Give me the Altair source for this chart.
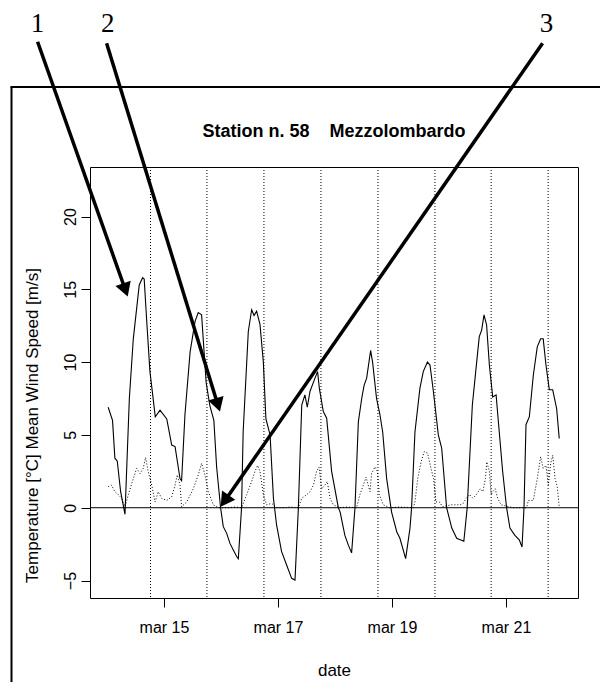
import altair as alt
import pandas as pd

YEAR = "2010"

# ---- temperature (solid line) ----
temp_times = [
    "03-14 00:30", "03-14 02:20", "03-14 03:20", "03-14 04:20", "03-14 05:45", "03-14 07:35",
    "03-14 09:25", "03-14 11:05", "03-14 13:35", "03-14 15:00", "03-14 15:40", "03-14 16:40",
    "03-14 18:05", "03-14 19:15", "03-14 20:20", "03-14 22:20",
    "03-15 01:10", "03-15 03:15", "03-15 04:40", "03-15 06:45", "03-15 07:25", "03-15 08:50",
    "03-15 11:00", "03-15 13:05", "03-15 14:25", "03-15 15:50", "03-15 17:45", "03-15 19:20",
    "03-15 21:00", "03-15 22:10", "03-15 23:50",
    "03-16 00:58", "03-16 02:24", "03-16 03:47", "03-16 05:11", "03-16 06:36", "03-16 07:18",
    "03-16 08:40", "03-16 09:20", "03-16 11:30", "03-16 12:55", "03-16 13:55", "03-16 15:00",
    "03-16 16:25", "03-16 17:50", "03-16 18:55", "03-16 20:40", "03-16 22:05", "03-16 23:25",
    "03-17 01:30", "03-17 03:40", "03-17 05:45", "03-17 07:10", "03-17 08:35", "03-17 10:00",
    "03-17 11:20", "03-17 12:20", "03-17 13:30", "03-17 15:35", "03-17 16:40", "03-17 17:25",
    "03-17 19:05", "03-17 20:30", "03-17 22:35",
    "03-18 01:25", "03-18 02:10", "03-18 04:10", "03-18 05:35", "03-18 07:00", "03-18 08:25",
    "03-18 09:50", "03-18 11:15", "03-18 12:15", "03-18 13:20", "03-18 15:00", "03-18 15:50",
    "03-18 17:30", "03-18 18:55", "03-18 20:05", "03-18 21:45", "03-18 23:50",
    "03-19 02:00", "03-19 03:20", "03-19 05:45", "03-19 07:35", "03-19 08:15", "03-19 09:40",
    "03-19 11:45", "03-19 13:10", "03-19 14:55", "03-19 16:00", "03-19 17:25", "03-19 19:30",
    "03-19 20:55", "03-19 23:00",
    "03-20 01:10", "03-20 03:15", "03-20 06:15", "03-20 07:40", "03-20 09:50", "03-20 11:15",
    "03-20 12:45", "03-20 13:45", "03-20 14:45", "03-20 15:50", "03-20 17:00", "03-20 18:25",
    "03-20 19:50", "03-20 21:10", "03-20 22:35",
    "03-21 00:15", "03-21 01:40", "03-21 03:45", "03-21 05:35", "03-21 06:45", "03-21 07:35",
    "03-21 08:25", "03-21 09:50", "03-21 11:30", "03-21 13:10", "03-21 14:35", "03-21 15:40",
    "03-21 16:50", "03-21 18:15", "03-21 19:40", "03-21 21:20", "03-21 22:25",
]
temp_values = [
    6.9, 6.0, 3.4, 3.2, 1.1, -0.45,
    7.5, 11.6, 15.3, 15.8, 15.7, 13.0,
    9.35, 7.75, 6.25, 6.7,
    6.1, 4.3, 4.2, 2.0, 1.85, 6.4,
    10.7, 12.8, 13.4, 13.25, 8.6, 7.0,
    6.0, 2.8, 0.0,
    -1.3, -1.76, -2.45, -2.9, -3.35, -3.5,
    0.0, 5.2, 12.1, 13.6, 13.2, 13.5,
    12.6, 10.0, 6.1, 5.0, 0.65, -1.2,
    -3.0, -3.95, -4.85, -4.97, 0.0, 7.05,
    7.75, 6.9, 8.0, 8.9, 9.35, 8.2,
    6.6, 6.15, 2.5,
    0.0, -0.3, -1.9, -2.55, -3.1, 0.0,
    5.9, 7.5, 8.4, 8.9, 10.8, 10.0,
    7.5, 6.4, 5.2, 2.0, -0.3,
    -1.65, -2.1, -3.5, -1.4, 0.0, 5.2,
    8.2, 9.35, 10.0, 9.8, 8.0, 5.0,
    4.1, 0.0,
    -1.4, -2.1, -2.3, 0.0, 7.05, 9.35,
    11.75, 12.2, 13.25, 12.55, 9.8, 7.6,
    7.75, 5.2, 2.5,
    0.0, -1.4, -1.9, -2.2, -2.7, 0.0,
    5.7, 6.25, 9.1, 11.05, 11.6, 11.6,
    9.8, 8.1, 8.1, 6.8, 4.75,
]

# ---- mean wind speed (dotted line) ----
wind_times = [
    "03-14 00:30", "03-14 01:55", "03-14 03:20", "03-14 04:45", "03-14 06:10", "03-14 07:35",
    "03-14 09:00", "03-14 11:05", "03-14 12:30", "03-14 13:55", "03-14 15:15", "03-14 16:15",
    "03-14 17:20", "03-14 18:50", "03-14 20:15", "03-14 21:35", "03-14 23:00",
    "03-15 01:10", "03-15 03:15", "03-15 04:40", "03-15 05:35", "03-15 06:45", "03-15 07:25",
    "03-15 09:35", "03-15 12:20", "03-15 14:25", "03-15 15:50", "03-15 17:15", "03-15 18:40",
    "03-15 20:45", "03-15 22:55",
    "03-16 03:00", "03-16 06:00", "03-16 08:40", "03-16 10:50", "03-16 12:55", "03-16 14:20",
    "03-16 15:25", "03-16 16:25", "03-16 17:50", "03-16 19:15", "03-16 21:20", "03-16 23:25",
    "03-17 03:00", "03-17 05:00", "03-17 08:35", "03-17 10:00", "03-17 12:05", "03-17 13:30",
    "03-17 14:55", "03-17 16:15", "03-17 17:15", "03-17 18:25", "03-17 19:45", "03-17 20:45",
    "03-17 21:55", "03-17 23:20",
    "03-18 02:00", "03-18 05:00", "03-18 09:05", "03-18 10:30", "03-18 11:55", "03-18 13:05",
    "03-18 14:45", "03-18 15:25", "03-18 16:50", "03-18 17:50", "03-18 18:40", "03-18 20:20",
    "03-18 23:00",
    "03-19 03:00", "03-19 09:00", "03-19 09:40", "03-19 10:50", "03-19 12:15", "03-19 13:35",
    "03-19 15:00", "03-19 16:25", "03-19 17:30", "03-19 18:30", "03-19 19:55", "03-19 21:20",
    "03-20 01:00", "03-20 03:15", "03-20 04:40", "03-20 06:00", "03-20 07:15", "03-20 08:40",
    "03-20 10:05", "03-20 11:30", "03-20 13:10", "03-20 14:15", "03-20 15:20", "03-20 15:55",
    "03-20 17:00", "03-20 17:45", "03-20 18:25", "03-20 19:25", "03-20 20:30", "03-20 21:55",
    "03-21 03:00", "03-21 08:40", "03-21 09:25", "03-21 11:30", "03-21 13:10", "03-21 14:35",
    "03-21 15:40", "03-21 16:50", "03-21 17:50", "03-21 18:50", "03-21 19:40", "03-21 20:40",
    "03-21 21:35", "03-21 22:25",
]
wind_values = [
    1.45, 1.55, 1.1, 0.9, 0.65, 0.07,
    0.9, 2.0, 2.7, 2.35, 2.7, 3.45,
    2.5, 1.55, 0.4, 1.1, 0.65,
    0.5, 0.75, 1.55, 2.25, 1.55, 0.07,
    0.4, 1.3, 2.25, 3.05, 2.25, 1.1,
    0.2, 0.0,
    0.0, 0.05, 0.0, 0.9, 1.8, 2.5,
    2.9, 2.5, 0.9, 0.2, 0.3, 0.0,
    0.0, 0.05, 0.0, 0.65, 0.9, 1.1,
    1.55, 2.5, 2.8, 1.3, 1.55, 1.8,
    0.65, 0.2,
    0.0, 0.05, 0.0, 0.9, 1.55, 2.1,
    1.1, 2.35, 2.8, 2.5, 0.9, 0.2,
    0.0,
    0.05, 0.0, 0.4, 2.0, 3.15, 3.85,
    3.75, 2.7, 2.0, 0.4, 0.4, 0.07,
    0.2, 0.2, 0.2, 0.3, 0.65, 0.9,
    0.65, 0.9, 1.3, 1.1, 2.0, 3.15,
    2.5, 0.9, 1.1, 1.3, 0.65, 0.2,
    0.0, 0.0, 0.5, 0.5, 2.0, 3.5,
    2.7, 2.9, 1.55, 3.05, 3.6, 2.0,
    1.45, 0.07,
]

# ---- vertical dotted day markers ----
marker_times = ["03-14 18:20", "03-15 18:05", "03-16 18:05", "03-17 18:05",
                "03-18 18:05", "03-19 18:05", "03-20 17:45", "03-21 17:45"]

# ---- axes ----
x_tick_days = ["03-15 00:00", "03-17 00:00", "03-19 00:00", "03-21 00:00"]
x_domain = ["03-13 16:51", "03-22 06:19"]
y_ticks = [-5, 0, 5, 10, 15, 20]
y_domain = [-6.2, 23.4]

# ---- numbered arrows (in data units) ----
arrow_labels = ["1", "2", "3"]
arrow_start_times = ["03-12 18:47", "03-13 23:50", "03-21 15:24"]
arrow_start_values = [32.0, 31.9, 31.9]
arrow_tip_times = ["03-14 08:43", "03-15 23:35", "03-15 23:52"]
arrow_tip_values = [14.5, 6.6, 0.07]
label_times = ["03-12 18:47", "03-14 00:17", "03-21 17:04"]
label_values = [33.2, 33.2, 33.2]
head_angles = [160.5, 162.9, 214.8]
head_offsets = [(-2.3, -6.6), (-2.1, -6.7), (4.0, -5.75)]

TITLE = "Station n. 58\u00a0\u00a0\u00a0\u00a0Mezzolombardo"
FONT = "Liberation Sans"


def iso(s):
    return f"{YEAR}-{s[:5]}T{s[6:]}:00Z"


def ms(s):
    return int(pd.Timestamp(iso(s)).value // 10**6)


temp_df = pd.DataFrame({"t": [iso(s) for s in temp_times], "v": temp_values})
wind_df = pd.DataFrame({"t": [iso(s) for s in wind_times], "v": wind_values})
mark_df = pd.DataFrame({"t": [iso(s) for s in marker_times]})
zero_df = pd.DataFrame({"v": [0]})
one_df = pd.DataFrame({"a": [0]})

xscale = alt.Scale(type="utc", domain=[ms(s) for s in x_domain], nice=False)
yscale = alt.Scale(domain=y_domain, nice=False, zero=False)

xaxis = alt.Axis(
    values=[ms(s) for s in x_tick_days],
    labelExpr="'mar ' + utcFormat(datum.value, '%d')",
    grid=False, domain=False, tickSize=9, tickColor="black", tickWidth=1,
    labelFont=FONT, labelFontSize=16, labelColor="black", labelPadding=12,
    labelBaseline="top", labelFlush=False, labelOverlap=False,
    titleFont=FONT, titleFontSize=17, titleFontWeight="normal", titleColor="black",
    titleY=72, titleBaseline="middle",
)
yaxis = alt.Axis(
    values=y_ticks, grid=False, domain=False, tickSize=9, tickColor="black", tickWidth=1,
    labelAngle=270, labelAlign="center", labelBaseline="alphabetic",
    labelFont=FONT, labelFontSize=16, labelColor="black", labelPadding=6,
    labelFlush=False, labelOverlap=False,
    titleFont=FONT, titleFontSize=17, titleFontWeight="normal", titleColor="black",
    titleAngle=270, titleX=-58, titleY=258, titleBaseline="middle", titleAlign="center",
)

X = alt.X("t:T", scale=xscale, axis=xaxis, title="date")
Y = alt.Y("v:Q", scale=yscale, axis=yaxis, title="Temperature [°C] Mean Wind Speed [m/s]")

temp_line = alt.Chart(temp_df).mark_line(color="black", strokeWidth=1.1).encode(x=X, y=Y)
wind_line = alt.Chart(wind_df).mark_line(color="black", strokeWidth=1, strokeDash=[1, 2]).encode(x=X, y=Y)
markers = alt.Chart(mark_df).mark_rule(color="black", strokeWidth=1, strokeDash=[1, 2]).encode(x=X)
zero_line = alt.Chart(zero_df).mark_rule(color="black", strokeWidth=1).encode(y=Y)

title_text = alt.Chart(one_df).mark_text(
    text=TITLE, font=FONT, fontSize=18, fontWeight="bold", color="black",
    align="center", baseline="alphabetic",
).encode(x=alt.value(244), y=alt.value(-30))

frame_left = alt.Chart(one_df).mark_rule(color="black", strokeWidth=2).encode(
    x=alt.value(-78.5), y=alt.value(-80), y2=alt.value(600))
frame_top = alt.Chart(one_df).mark_rule(color="black", strokeWidth=2).encode(
    x=alt.value(-79.5), x2=alt.value(530), y=alt.value(-80))

layers = [temp_line, wind_line, markers, zero_line, title_text, frame_left, frame_top]

for i in range(3):
    adf = pd.DataFrame({
        "t": [iso(arrow_start_times[i])], "v": [arrow_start_values[i]],
        "t2": [iso(arrow_tip_times[i])], "v2": [arrow_tip_values[i]],
    })
    ox, oy = head_offsets[i]
    shaft = alt.Chart(adf).mark_rule(
        color="black", strokeWidth=3.5, x2Offset=ox, y2Offset=oy
    ).encode(x=X, y=Y, x2="t2:T", y2="v2:Q")
    hdf = pd.DataFrame({"t": [iso(arrow_tip_times[i])], "v": [arrow_tip_values[i]]})
    head = alt.Chart(hdf).mark_point(
        shape="triangle-up", filled=True, size=260, angle=head_angles[i],
        color="black", opacity=1, strokeWidth=0, xOffset=ox, yOffset=oy,
    ).encode(x=X, y=Y)
    ldf = pd.DataFrame({"t": [iso(label_times[i])], "v": [label_values[i]], "lab": [arrow_labels[i]]})
    lab = alt.Chart(ldf).mark_text(
        font="Liberation Serif", fontSize=27, color="black", align="center", baseline="middle",
    ).encode(x=X, y=Y, text="lab:N")
    layers += [shaft, head, lab]

chart = alt.layer(*layers).properties(
    width=488, height=431,
    autosize=alt.AutoSizeParams(type="none"),
    padding={"left": 82, "top": 159, "right": 22, "bottom": 84},
    background="white",
).configure_view(stroke="black", strokeWidth=1)

chart.save("out.html", embed_options={"renderer": "svg", "actions": False})
